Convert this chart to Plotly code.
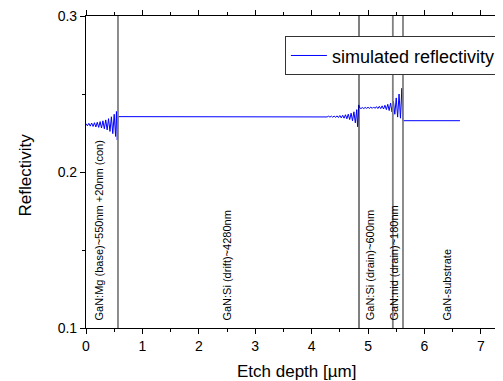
import plotly.graph_objects as go

# ---- data ----
depth_um = [
    0.000, 0.025, 0.050, 0.075, 0.100, 0.125, 0.150, 0.175, 0.200, 0.225,
    0.250, 0.275, 0.300, 0.325, 0.350, 0.375, 0.400, 0.425, 0.450, 0.475,
    0.500, 0.525, 0.540, 0.555, 0.565,
    4.150, 4.175, 4.200, 4.225, 4.250, 4.275, 4.300, 4.325, 4.350, 4.375,
    4.400, 4.425, 4.450, 4.475, 4.500, 4.525, 4.550, 4.575, 4.600, 4.625,
    4.650, 4.675, 4.700, 4.725, 4.750, 4.775, 4.800, 4.815, 4.835, 4.850,
    4.875, 4.900, 4.925, 4.950, 4.975, 5.000, 5.025, 5.050, 5.075, 5.100,
    5.125, 5.150, 5.175, 5.200, 5.225, 5.250, 5.275, 5.300, 5.325, 5.350,
    5.375, 5.400, 5.425, 5.450, 5.475, 5.500, 5.525, 5.550, 5.575, 5.600,
    5.615, 6.630,
]
reflectivity = [
    0.2310, 0.2296, 0.2312, 0.2294, 0.2314, 0.2292, 0.2316, 0.2289, 0.2319, 0.2286,
    0.2323, 0.2282, 0.2328, 0.2277, 0.2334, 0.2270, 0.2342, 0.2260, 0.2354, 0.2246,
    0.2370, 0.2228, 0.2388, 0.2205, 0.2355,
    0.2356, 0.2354, 0.2357, 0.2353, 0.2357, 0.2353, 0.2358, 0.2352, 0.2358, 0.2351,
    0.2359, 0.2350, 0.2360, 0.2349, 0.2362, 0.2347, 0.2364, 0.2345, 0.2367, 0.2341,
    0.2371, 0.2336, 0.2377, 0.2328, 0.2386, 0.2315, 0.2400, 0.2290, 0.2430, 0.2412,
    0.2407, 0.2413, 0.2407, 0.2414, 0.2408, 0.2415, 0.2408, 0.2416, 0.2408, 0.2417,
    0.2408, 0.2419, 0.2407, 0.2421, 0.2406, 0.2424, 0.2404, 0.2428, 0.2400, 0.2434,
    0.2394, 0.2442, 0.2385, 0.2455, 0.2370, 0.2475, 0.2352, 0.2500, 0.2345, 0.2537,
    0.2329, 0.2329,
]

boundaries = [0.567, 4.84, 5.44, 5.62]
boundary_colors = ["#808080", "#000000", "#808080", "#808080"]
boundary_widths = [1.8, 1.0, 1.8, 1.8]

layer_labels = [
    "GaN:Mg (base)~550nm +20nm (con)",
    "GaN:Si (drift)~4280nm",
    "GaN:Si (drain)~600nm",
    "GaN:nid (drain)~180nm",
    "GaN-substrate",
]
label_x = [0.23, 2.50, 5.03, 5.47, 6.40]

x_ticks = [0, 1, 2, 3, 4, 5, 6, 7]
y_ticks = [0.1, 0.2, 0.3]

FONT = "Liberation Sans, Arial, sans-serif"

fig = go.Figure()
fig.add_trace(go.Scatter(
    x=depth_um, y=reflectivity, mode="lines",
    line=dict(color="#0000ff", width=1),
    name="simulated reflectivity",
))

for xb, col, w in zip(boundaries, boundary_colors, boundary_widths):
    fig.add_shape(type="line", xref="x", yref="paper", x0=xb, x1=xb, y0=0, y1=1,
                  line=dict(color=col, width=w))

for lab, lx in zip(layer_labels, label_x):
    fig.add_annotation(x=lx, y=0.1035, xref="x", yref="y", text=lab, textangle=-90,
                       showarrow=False, xanchor="center", yanchor="bottom",
                       font=dict(family=FONT, size=11, color="#000000"))

# axis titles
fig.add_annotation(x=0.5036, xref="paper", y=-0.141, yref="paper",
                   text="Etch depth [µm]", showarrow=False, xanchor="center", yanchor="middle",
                   font=dict(family=FONT, size=17, color="#000000"))
fig.add_annotation(x=-0.146, xref="paper", y=0.489, yref="paper",
                   text="Reflectivity", textangle=-90, showarrow=False,
                   xanchor="center", yanchor="middle",
                   font=dict(family=FONT, size=17, color="#000000"))

fig.update_layout(
    width=503, height=381,
    margin=dict(l=78, r=8, t=8, b=61, autoexpand=False),
    paper_bgcolor="white", plot_bgcolor="white",
    font=dict(family=FONT, size=14, color="#000000"),
    showlegend=True,
    legend=dict(x=0.477, y=0.935, xanchor="left", yanchor="top",
                bgcolor="white", bordercolor="#333333", borderwidth=1,
                font=dict(family=FONT, size=18), itemwidth=36,
                tracegroupgap=0),
    xaxis=dict(
        range=[0, 7.393], tickvals=x_ticks, ticktext=[str(v) for v in x_ticks],
        ticks="outside", ticklen=5, tickwidth=1, tickcolor="#000",
        minor=dict(dtick=0.5, tick0=0, ticks="outside", ticklen=3, tickcolor="#000"),
        showline=True, linecolor="#000", linewidth=1, mirror="ticks",
        showgrid=False, zeroline=False, automargin=False,
        tickfont=dict(size=14), ticklabeloverflow="allow",
    ),
    yaxis=dict(
        range=[0.1, 0.30001], tickvals=y_ticks, ticktext=["0.1", "0.2", "0.3"],
        ticks="outside", ticklen=5, tickwidth=1, tickcolor="#000",
        minor=dict(dtick=0.05, tick0=0.1, ticks="outside", ticklen=3, tickcolor="#000"),
        showline=True, linecolor="#000", linewidth=1.2, mirror=False,
        showgrid=False, zeroline=False, automargin=False,
        tickfont=dict(size=14), ticklabeloverflow="allow",
    ),
)

fig.write_html("out.html")
